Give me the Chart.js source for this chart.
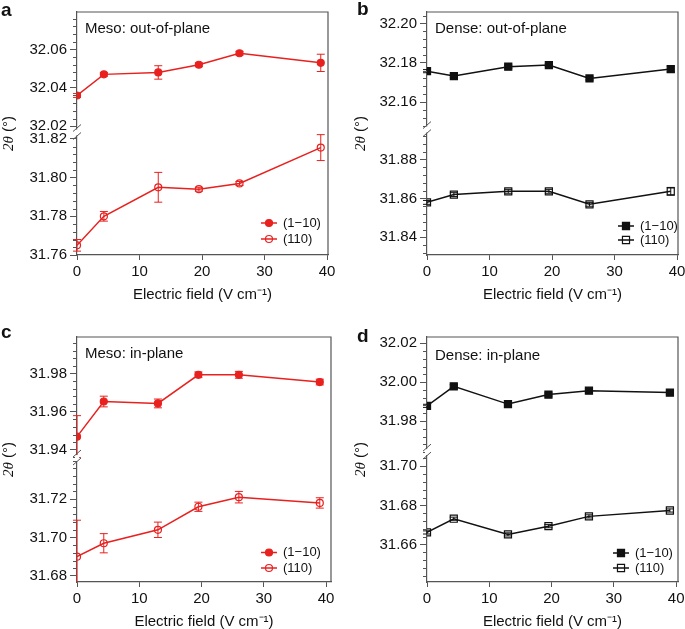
<!DOCTYPE html>
<html>
<head>
<meta charset="utf-8">
<script src="https://cdn.jsdelivr.net/npm/chart.js@4.4.0/dist/chart.umd.min.js"></script>
<style>
html, body { margin: 0; padding: 0; background: #fff; overflow: hidden; width: 685px; height: 629px; }
body { position: relative; }
.pn { position: absolute; }
</style>
</head>
<body>
<div class="pn" style="left:0;top:0;width:340px;height:310px"><canvas id="pa"></canvas></div>
<div class="pn" style="left:340px;top:0;width:350px;height:310px"><canvas id="pb"></canvas></div>
<div class="pn" style="left:0;top:325px;width:343px;height:310px"><canvas id="pc"></canvas></div>
<div class="pn" style="left:340px;top:325px;width:350px;height:310px"><canvas id="pd"></canvas></div>
<script>
// electric field values (V cm-1), same for every panel
const field = [0, 4.3, 13, 19.5, 26, 39];
const xTicks = [0, 10, 20, 30, 40];

// a: meso, out-of-plane
const mesoOut1m10 = [32.036, 32.047, 32.048, 32.052, 32.058, 32.053];
const mesoOut1m10Err = [0.001, 0.001, 0.0035, 0.001, 0.001, 0.0045];
const mesoOut110 = [31.765, 31.780, 31.795, 31.794, 31.797, 31.8155];
const mesoOut110Err = [0.003, 0.0025, 0.0077, 0.001, 0.001, 0.0067];

// b: dense, out-of-plane
const denseOut1m10 = [32.1757, 32.1732, 32.178, 32.1788, 32.172, 32.1768];
const denseOut1m10Err = [0.0008, 0.0008, 0.0008, 0.0008, 0.0008, 0.0015];
const denseOut110 = [31.858, 31.862, 31.8637, 31.8637, 31.857, 31.8637];
const denseOut110Err = [0.001, 0.001, 0.001, 0.001, 0.001, 0.002];

// c: meso, in-plane
const mesoIn1m10 = [31.9469, 31.9653, 31.9643, 31.9793, 31.9793, 31.9755];
const mesoIn1m10Err = [0.011, 0.0028, 0.0023, 0.0015, 0.0018, 0.0015];
const mesoIn110 = [31.690, 31.697, 31.704, 31.716, 31.721, 31.718];
const mesoIn110Err = [0.019, 0.005, 0.004, 0.0024, 0.003, 0.0027];

// d: dense, in-plane
const denseIn1m10 = [31.9878, 31.9978, 31.9887, 31.9936, 31.9956, 31.9946];
const denseIn1m10Err = [0.0008, 0.0008, 0.0008, 0.0008, 0.0008, 0.0008];
const denseIn110 = [31.6662, 31.6732, 31.6652, 31.6694, 31.6744, 31.6774];
const denseIn110Err = [0.0008, 0.0008, 0.0008, 0.0008, 0.0008, 0.0008];

// labelled y ticks, upper and lower part of each broken axis
const aTopTicks = [32.02, 32.04, 32.06];
const aBotTicks = [31.76, 31.78, 31.80, 31.82];
const bTopTicks = [32.16, 32.18, 32.20];
const bBotTicks = [31.84, 31.86, 31.88];
const cTopTicks = [31.94, 31.96, 31.98];
const cBotTicks = [31.68, 31.70, 31.72];
const dTopTicks = [31.98, 32.00, 32.02];
const dBotTicks = [31.66, 31.68, 31.70];

const RED = '#e8211f';
const BLK = '#111';
const AX = '#555';
const TXT = '#111';
const FONT = "'Liberation Sans', Arial, Helvetica, sans-serif";
const MINOR = 0.004;

const panels = [
  { canvas: 'pa', letter: 'a', lx: 1, ly: 15.5, title: 'Meso: out-of-plane', color: RED, marker: 'circle', r: 3.5,
    w: 340, h: 310, area: { l: 77, t: 8, r: 328, b: 255 }, split: 130.5, xMax: 40.16, xPad: 6,
    top: mesoOut1m10, topErr: mesoOut1m10Err, bot: mesoOut110, botErr: mesoOut110Err,
    topRange: [32.0167, 32.0795], botRange: [31.76, 31.8233], topTicks: aTopTicks, botTicks: aBotTicks,
    legX: 206, legRows: [32, 16], yTitleDx: 68, titleDy: 17 },
  { canvas: 'pb', letter: 'b', lx: 17, ly: 15, title: 'Dense: out-of-plane', color: BLK, marker: 'rect', r: 5,
    w: 350, h: 310, area: { l: 87, t: 8, r: 338, b: 255 }, split: 127.5, xMax: 40.16, xPad: 6,
    top: denseOut1m10, topErr: denseOut1m10Err, bot: denseOut110, botErr: denseOut110Err,
    topRange: [32.146, 32.2058], botRange: [31.8309, 31.8955], topTicks: bTopTicks, botTicks: bBotTicks,
    legX: 213, legRows: [29, 15], yTitleDx: 66, titleDy: 17 },
  { canvas: 'pc', letter: 'c', lx: 1, ly: 12.5, title: 'Meso: in-plane', color: RED, marker: 'circle', r: 3.5,
    w: 343, h: 310, area: { l: 77, t: 8, r: 331, b: 257 }, split: 131, xMax: 40.8, xPad: 4,
    top: mesoIn1m10, topErr: mesoIn1m10Err, bot: mesoIn110, botErr: mesoIn110Err,
    topRange: [31.9357, 31.9991], botRange: [31.6768, 31.7414], topTicks: cTopTicks, botTicks: cBotTicks,
    legX: 206, legRows: [29.5, 14], yTitleDx: 68, titleDy: 16.5 },
  { canvas: 'pd', letter: 'd', lx: 17, ly: 17, title: 'Dense: in-plane', color: BLK, marker: 'rect', r: 5,
    w: 350, h: 310, area: { l: 87, t: 8, r: 338, b: 257 }, split: 125, xMax: 40.3, xPad: 4,
    top: denseIn1m10, topErr: denseIn1m10Err, bot: denseIn110, botErr: denseIn110Err,
    topRange: [31.964, 32.0232], botRange: [31.6409, 31.7072], topTicks: dTopTicks, botTicks: dBotTicks,
    legX: 208, legRows: [29, 14], yTitleDx: 66, titleDy: 18.5 }
];

function buildTicks(range, majors) {
  const out = [];
  const k0 = Math.ceil(range[0] / MINOR - 1e-6), k1 = Math.floor(range[1] / MINOR + 1e-6);
  for (let k = k0; k <= k1; k++) {
    const v = +(k * MINOR).toFixed(4);
    out.push({ value: v, big: majors.some(m => Math.abs(m - v) < 1e-6) });
  }
  return out;
}

function yAxis(p, range, majors, weight) {
  return {
    type: 'linear', position: 'left', stack: 'y', stackWeight: weight,
    min: range[0], max: range[1],
    afterBuildTicks: s => { s.ticks = buildTicks(range, majors); },
    afterFit: s => { s.width = p.area.l; },
    ticks: {
      autoSkip: false, padding: 3, color: TXT, font: { family: FONT, size: 15 },
      callback: (v, i, ts) => ts[i].big ? v.toFixed(2) : ''
    },
    grid: {
      drawOnChartArea: false, tickLength: 7, tickWidth: 1,
      tickColor: c => (c.tick && c.tick.big) ? AX : 'rgba(0,0,0,0)'
    },
    border: { color: AX, width: 1.2 }
  };
}

function drawMarker(ctx, ds, x, y) {
  ctx.beginPath();
  if (ds.pointStyle === 'rect') {
    const h = ds.pointRadius * Math.SQRT1_2;
    ctx.rect(x - h, y - h, 2 * h, 2 * h);
  } else {
    ctx.arc(x, y, ds.pointRadius, 0, Math.PI * 2);
  }
  ctx.fillStyle = ds.pointBackgroundColor;
  ctx.fill();
  ctx.lineWidth = ds.pointBorderWidth;
  ctx.strokeStyle = ds.borderColor;
  ctx.stroke();
}

function makeDeco(p) {
  return {
    id: 'deco',
    beforeDatasetsDraw(chart) {
      const ctx = chart.ctx, a = chart.chartArea, xs = chart.scales.x;
      const errs = [p.topErr, p.botErr];
      chart.data.datasets.forEach((ds, i) => {
        const ys = chart.scales[ds.yAxisID];
        ctx.save();
        ctx.beginPath();
        ctx.rect(a.left - 6, ys.top, a.width + 12, ys.height);
        ctx.clip();
        ctx.strokeStyle = ds.borderColor;
        ctx.lineWidth = 1;
        ds.data.forEach((pt, j) => {
          const x = xs.getPixelForValue(pt.x);
          const y1 = ys.getPixelForValue(pt.y + errs[i][j]);
          const y2 = ys.getPixelForValue(pt.y - errs[i][j]);
          ctx.beginPath();
          ctx.moveTo(x, y1); ctx.lineTo(x, y2);
          ctx.moveTo(x - 4, y1); ctx.lineTo(x + 4, y1);
          ctx.moveTo(x - 4, y2); ctx.lineTo(x + 4, y2);
          ctx.stroke();
        });
        ctx.restore();
      });
    },
    afterDraw(chart) {
      const ctx = chart.ctx, a = chart.chartArea;
      const yT = chart.scales.yTop, yB = chart.scales.yBot;
      ctx.save();
      // minor ticks
      ctx.strokeStyle = AX;
      ctx.lineWidth = 1;
      [yT, yB].forEach(s => {
        s.ticks.forEach(t => {
          if (t.big) return;
          const y = Math.round(s.getPixelForValue(t.value)) + 0.5;
          ctx.beginPath();
          ctx.moveTo(s.right - 4, y);
          ctx.lineTo(s.right, y);
          ctx.stroke();
        });
      });
      // frame top and right
      ctx.lineWidth = 1.2;
      ctx.beginPath();
      ctx.moveTo(a.left, a.top);
      ctx.lineTo(a.right, a.top);
      ctx.lineTo(a.right, a.bottom);
      ctx.stroke();
      // axis break
      const yb = yB.top, xb = a.left;
      ctx.fillStyle = '#fff';
      ctx.fillRect(xb - 2, yb - 3, 4, 6);
      ctx.lineWidth = 1;
      ctx.beginPath();
      ctx.moveTo(xb - 4, yb - 1); ctx.lineTo(xb + 4, yb - 8);
      ctx.moveTo(xb - 4, yb + 7); ctx.lineTo(xb + 4, yb);
      ctx.stroke();
      // panel title
      ctx.fillStyle = TXT;
      ctx.font = '15px ' + FONT;
      ctx.textAlign = 'left';
      ctx.textBaseline = 'middle';
      ctx.fillText(p.title, a.left + 8, a.top + p.titleDy);
      // panel letter
      ctx.font = 'bold 19px ' + FONT;
      ctx.textBaseline = 'alphabetic';
      ctx.fillText(p.letter, p.lx, p.ly);
      // y title
      ctx.save();
      ctx.translate(a.left - p.yTitleDx, (a.top + a.bottom) / 2);
      ctx.rotate(-Math.PI / 2);
      const f1 = "italic 15px 'Liberation Serif', 'Times New Roman', serif";
      const f2 = '15px ' + FONT;
      ctx.font = f1; const w1 = ctx.measureText('2θ').width;
      ctx.font = f2; const w2 = ctx.measureText(' (°)').width;
      ctx.textBaseline = 'middle';
      ctx.font = f1; ctx.fillText('2θ', -(w1 + w2) / 2, 0);
      ctx.font = f2; ctx.fillText(' (°)', -(w1 + w2) / 2 + w1, 0);
      ctx.restore();
      // legend
      ctx.font = '13px ' + FONT;
      ctx.textBaseline = 'middle';
      chart.data.datasets.forEach((ds, i) => {
        const y = a.bottom - p.legRows[i];
        const tx = a.left + p.legX;
        ctx.strokeStyle = ds.borderColor;
        ctx.lineWidth = 1.5;
        ctx.beginPath();
        ctx.moveTo(tx - 22, y); ctx.lineTo(tx - 6, y);
        ctx.stroke();
        drawMarker(ctx, ds, tx - 14, y);
        ctx.fillStyle = TXT;
        ctx.fillText(ds.label, tx, y);
      });
      ctx.restore();
    }
  };
}

function makePanel(p) {
  const open = 'rgba(0,0,0,0)';
  const ds = (label, vals, axis, fill) => ({
    label, yAxisID: axis,
    data: field.map((x, i) => ({ x, y: vals[i] })),
    showLine: true, borderColor: p.color, backgroundColor: p.color, borderWidth: 1.5,
    pointStyle: p.marker, pointRadius: p.r, pointBorderWidth: 1.2,
    pointBackgroundColor: fill, pointBorderColor: p.color
  });
  new Chart(document.getElementById(p.canvas), {
    type: 'scatter',
    data: {
      datasets: [
        ds('(1−10)', p.top, 'yTop', p.color),
        ds('(110)', p.bot, 'yBot', open)
      ]
    },
    options: {
      responsive: true, maintainAspectRatio: false, animation: false,
      layout: { padding: { left: 0, top: p.area.t, right: p.w - p.area.r, bottom: 0 } },
      plugins: { legend: { display: false }, tooltip: { enabled: false } },
      scales: {
        x: {
          type: 'linear', min: 0, max: p.xMax,
          afterBuildTicks: s => { s.ticks = xTicks.map(v => ({ value: v })); },
          afterFit: s => { s.height = p.h - p.area.b; },
          ticks: { color: TXT, font: { family: FONT, size: 15 }, padding: 3, maxRotation: 0, autoSkip: false },
          grid: { drawOnChartArea: false, tickLength: 5, tickColor: AX },
          border: { color: AX, width: 1.2 },
          title: { display: true, text: 'Electric field (V cm⁻¹)', color: TXT,
                   font: { family: FONT, size: 15 }, padding: { top: 0, bottom: p.xPad } }
        },
        yBot: yAxis(p, p.botRange, p.botTicks, p.area.b - p.split),
        yTop: yAxis(p, p.topRange, p.topTicks, p.split - p.area.t)
      }
    },
    plugins: [makeDeco(p)]
  });
}

panels.forEach(makePanel);
</script>
</body>
</html>
